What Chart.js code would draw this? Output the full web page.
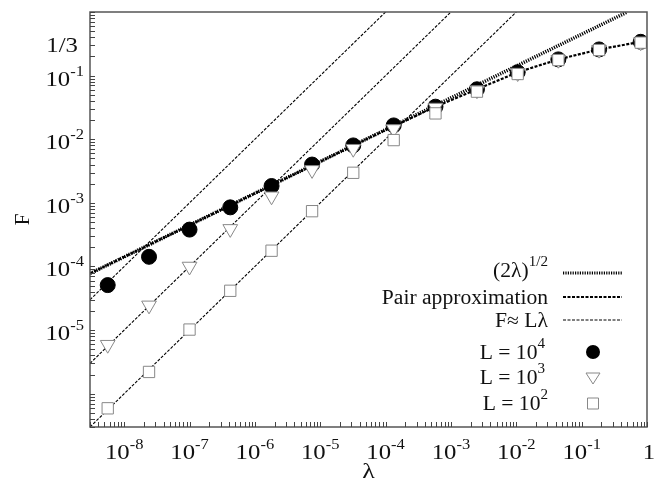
<!DOCTYPE html>
<html>
<head>
<meta charset="utf-8">
<script src="https://cdn.jsdelivr.net/npm/chart.js@4.4.1/dist/chart.umd.min.js"></script>
<style>
  html, body { margin: 0; padding: 0; background: #fff; }
  canvas { display: block; }
</style>
</head>
<body>
<canvas id="graph" width="657" height="492"></canvas>
<script>
// lambda values of the simulation points
const lambdas = [5.6e-9, 2.4e-8, 1e-7, 4.2e-7, 1.8e-6, 7.5e-6, 3.2e-5, 1.33e-4, 5.8e-4, 2.5e-3, 1.05e-2, 4.4e-2, 0.185, 0.8];
// F for each system size
const fL4 = [5.1e-5, 1.42e-4, 3.8e-4, 8.5e-4, 1.84e-3, 4.0e-3, 8.0e-3, 1.65e-2, 3.25e-2, 6.1e-2, 0.113, 0.18, 0.258, 0.34];
const fL3 = [5.9e-6, 2.45e-5, 1.0e-4, 3.9e-4, 1.27e-3, 3.3e-3, 7.1e-3, 1.45e-2, 3.15e-2, 5.9e-2, 0.11, 0.178, 0.256, 0.336];
const fL2 = [5.9e-7, 2.2e-6, 1.02e-5, 4.15e-5, 1.77e-4, 7.4e-4, 2.97e-3, 9.7e-3, 2.55e-2, 5.6e-2, 0.106, 0.176, 0.253, 0.33];

// (2 lambda)^1/2 line (straight on log-log, read at its ends)
const sqrtX = [3e-9, 0.5];
const sqrtY = [7.75e-5, 1];
// pair approximation curve
const pairX = [3e-9, 1e-4, 5.8e-4, 2.5e-3, 1.05e-2, 4.4e-2, 0.185, 0.8, 1];
const pairY = [7.75e-5, 1.4e-2, 3.25e-2, 6.1e-2, 0.113, 0.18, 0.258, 0.34, 0.345];
// F = L lambda lines, L = 10^4, 10^3, 10^2
const linX = [[3e-9, 1e-4], [3e-9, 1e-3], [3e-9, 1e-2]];
const linY = [[3e-5, 1], [3e-6, 1], [3e-7, 1]];

// axis ticks and labels
const xTicks = [1e-8, 1e-7, 1e-6, 1e-5, 1e-4, 1e-3, 1e-2, 1e-1, 1];
const xTickLabels = [['10', '-8'], ['10', '-7'], ['10', '-6'], ['10', '-5'], ['10', '-4'], ['10', '-3'], ['10', '-2'], ['10', '-1'], ['1', '']];
const yTicks = [1 / 3, 1e-1, 1e-2, 1e-3, 1e-4, 1e-5];
const yTickLabels = [['1/3', ''], ['10', '-1'], ['10', '-2'], ['10', '-3'], ['10', '-4'], ['10', '-5']];

const serif = '"Liberation Serif", "Times New Roman", serif';

function pts(xs, ys) {
  return xs.map((x, i) => ({ x: x, y: ys[i] }));
}

// text with an optional superscript; sx stretches it sideways like the original figure
function supText(ctx, base, sup, x, y, align, size, supSize, rise, sx) {
  ctx.font = size + 'px ' + serif;
  const wb = ctx.measureText(base).width * sx;
  ctx.font = supSize + 'px ' + serif;
  const ws = sup ? ctx.measureText(sup).width * sx : 0;
  const w = wb + ws;
  let left = x;
  if (align === 'center') left = x - w / 2;
  if (align === 'right') left = x - w;
  ctx.save();
  ctx.textAlign = 'left';
  ctx.textBaseline = 'alphabetic';
  ctx.translate(left, y);
  ctx.scale(sx, 1);
  ctx.font = size + 'px ' + serif;
  ctx.fillText(base, 0, 0);
  if (sup) {
    ctx.font = supSize + 'px ' + serif;
    ctx.fillText(sup, wb / sx, -rise);
  }
  ctx.restore();
}

// frame, inward ticks, tick labels, titles and legend
const decor = {
  id: 'decor',
  afterDraw(chart) {
    const ctx = chart.ctx;
    const a = chart.chartArea;
    const xs = chart.scales.x, ys = chart.scales.y;
    ctx.save();

    ctx.strokeStyle = '#555';
    ctx.lineWidth = 1.5;
    ctx.strokeRect(a.left, a.top, a.right - a.left, a.bottom - a.top);

    ctx.lineWidth = 1;
    ctx.strokeStyle = '#444';
    ctx.beginPath();
    for (let d = -9; d <= 0; d++) {
      for (let m = 1; m <= 9; m++) {
        const v = m * Math.pow(10, d);
        if (v >= xs.min && v <= xs.max) {
          const px = Math.round(xs.getPixelForValue(v)) + 0.5;
          ctx.moveTo(px, a.bottom);
          ctx.lineTo(px, a.bottom - 5);
        }
        if (v >= ys.min && v <= ys.max) {
          const py = Math.round(ys.getPixelForValue(v)) + 0.5;
          ctx.moveTo(a.left, py);
          ctx.lineTo(a.left + 5, py);
        }
      }
    }
    ctx.stroke();

    ctx.fillStyle = '#111';
    xTicks.forEach((v, i) => {
      const px = xs.getPixelForValue(v);
      supText(ctx, xTickLabels[i][0], xTickLabels[i][1], px + (i === 8 ? 2 : 0), 459, 'center', 21, 14, 10, 1.18);
    });
    yTicks.forEach((v, i) => {
      const py = ys.getPixelForValue(v);
      const right = i === 0 ? 78 : 84;
      supText(ctx, yTickLabels[i][0], yTickLabels[i][1], right, py + 10, 'right', 21, 14, 10, 1.18);
    });

    // axis titles
    supText(ctx, '\u03bb', '', (a.left + a.right) / 2, 478, 'center', 22, 14, 0, 1.18);
    ctx.save();
    ctx.translate(29, (a.top + a.bottom) / 2);
    ctx.rotate(-Math.PI / 2);
    supText(ctx, 'F', '', 0, 0, 'center', 21, 14, 0, 1.0);
    ctx.restore();

    // legend
    const tx = 548, lx0 = 563, lx1 = 622, mx = 593;
    const sx = 1.08;
    supText(ctx, '(2\u03bb)', '1/2', tx, 277, 'right', 20, 14, 11, sx);
    supText(ctx, 'Pair approximation', '', tx, 304, 'right', 20, 14, 11, sx);
    supText(ctx, 'F\u2248 L\u03bb', '', tx, 327, 'right', 20, 14, 11, sx);
    supText(ctx, 'L = 10', '4', tx - 3, 359, 'right', 20, 14, 11, sx);
    supText(ctx, 'L = 10', '3', tx - 3, 384, 'right', 20, 14, 11, sx);
    supText(ctx, 'L = 10', '2', tx, 410, 'right', 20, 14, 11, sx);

    ctx.strokeStyle = '#000';
    const sample = (y, w, dash) => {
      ctx.lineWidth = w;
      ctx.setLineDash(dash);
      ctx.beginPath();
      ctx.moveTo(lx0, y);
      ctx.lineTo(lx1, y);
      ctx.stroke();
    };
    sample(273, 3, [1.2, 1.2]);
    sample(297, 2, [3, 1.5]);
    sample(320, 1.1, [3, 1.5]);
    ctx.setLineDash([]);

    ctx.fillStyle = '#000';
    ctx.beginPath();
    ctx.arc(mx, 352, 7, 0, Math.PI * 2);
    ctx.fill();

    ctx.strokeStyle = '#888';
    ctx.fillStyle = '#fff';
    ctx.lineWidth = 1;
    ctx.beginPath();
    ctx.moveTo(mx - 7, 373);
    ctx.lineTo(mx + 7, 373);
    ctx.lineTo(mx, 384);
    ctx.closePath();
    ctx.fill();
    ctx.stroke();

    ctx.beginPath();
    ctx.rect(mx - 5.5, 398, 11, 11);
    ctx.fill();
    ctx.stroke();

    ctx.restore();
  }
};

const lineSets = linX.map((xs, i) => ({
  label: 'F = L lambda ' + i,
  data: pts(xs, linY[i]),
  showLine: true,
  pointRadius: 0,
  borderColor: '#000',
  borderWidth: 1.1,
  borderDash: [3, 1.5],
  order: 6
}));

const config = {
  type: 'scatter',
  data: {
    datasets: [
      {
        label: 'L = 10^2',
        data: pts(lambdas, fL2),
        pointStyle: 'rect',
        pointRadius: 8,
        backgroundColor: '#fff',
        borderColor: '#888',
        borderWidth: 1,
        order: 0
      },
      {
        label: 'L = 10^3',
        data: pts(lambdas, fL3),
        pointStyle: 'triangle',
        rotation: 180,
        pointRadius: 8.5,
        backgroundColor: '#fff',
        borderColor: '#888',
        borderWidth: 1,
        order: 1
      },
      {
        label: 'L = 10^4',
        data: pts(lambdas, fL4),
        pointStyle: 'circle',
        pointRadius: 7.5,
        backgroundColor: '#000',
        borderColor: '#000',
        borderWidth: 1,
        order: 2
      },
      {
        label: 'Pair approximation',
        data: pts(pairX, pairY),
        showLine: true,
        pointRadius: 0,
        borderColor: '#000',
        borderWidth: 2.2,
        borderDash: [3, 1.5],
        order: 4
      },
      {
        label: '(2 lambda)^1/2',
        data: pts(sqrtX, sqrtY),
        showLine: true,
        pointRadius: 0,
        borderColor: '#000',
        borderWidth: 3.5,
        borderDash: [1.2, 1.2],
        order: 5
      },
      ...lineSets
    ]
  },
  options: {
    responsive: false,
    animation: false,
    devicePixelRatio: 1,
    layout: { padding: { left: 90, right: 10, top: 12, bottom: 65 } },
    plugins: {
      legend: { display: false },
      tooltip: { enabled: false }
    },
    scales: {
      x: { type: 'logarithmic', min: 3e-9, max: 1, display: false },
      y: { type: 'logarithmic', min: 3e-7, max: 1, display: false }
    }
  },
  plugins: [decor]
};

const myChart = new Chart(document.getElementById('graph').getContext('2d'), config);
</script>
</body>
</html>
